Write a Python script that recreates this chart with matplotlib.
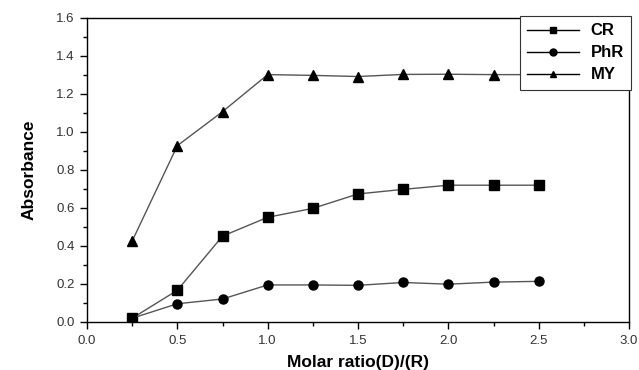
import matplotlib
matplotlib.use("Agg")
import matplotlib.pyplot as plt
from matplotlib.ticker import MultipleLocator, FormatStrFormatter

plt.rcParams['font.family'] = ['Liberation Sans', 'DejaVu Sans']

# data
ratio = [0.25, 0.5, 0.75, 1.0, 1.25, 1.5, 1.75, 2.0, 2.25, 2.5]
cr = [0.02, 0.167, 0.452, 0.551, 0.598, 0.674, 0.698, 0.72, 0.72, 0.72]
phr = [0.02, 0.096, 0.121, 0.195, 0.195, 0.193, 0.208, 0.199, 0.21, 0.214]
my = [0.426, 0.928, 1.107, 1.302, 1.298, 1.292, 1.303, 1.304, 1.302, 1.302]

fig = plt.figure(figsize=(6.39, 3.70), dpi=100)
ax = fig.add_axes([87/639, 1 - 322/370, (629-87)/639, (322-18)/370])

lc = '#555555'
ax.plot(ratio, cr, '-', color=lc, lw=1.0, marker='s', ms=6.5,
        mfc='k', mec='k', label='CR')
ax.plot(ratio, phr, '-', color=lc, lw=1.0, marker='o', ms=6.5,
        mfc='k', mec='k', label='PhR')
ax.plot(ratio, my, '-', color=lc, lw=1.0, marker='^', ms=6.5,
        mfc='k', mec='k', label='MY')

ax.set_xlim(0, 3.0)
ax.set_ylim(0, 1.6)
ax.xaxis.set_major_locator(MultipleLocator(0.5))
ax.xaxis.set_minor_locator(MultipleLocator(0.25))
ax.yaxis.set_major_locator(MultipleLocator(0.2))
ax.yaxis.set_minor_locator(MultipleLocator(0.1))
ax.xaxis.set_major_formatter(FormatStrFormatter('%.1f'))
ax.yaxis.set_major_formatter(FormatStrFormatter('%.1f'))

ax.tick_params(which='both', direction='out', top=False, right=False,
               labelsize=9.5, labelcolor='#333333', width=1.0)
ax.tick_params(which='major', length=5, pad=4)
ax.tick_params(which='minor', length=3)
for s in ax.spines.values():
    s.set_linewidth(1.0)

ax.set_xlabel('Molar ratio(D)/(R)', fontsize=12.5, fontweight='bold', labelpad=6)
ax.set_ylabel('Absorbance', fontsize=12.5, fontweight='bold', labelpad=14)

leg = ax.legend(loc='upper right', bbox_to_anchor=(1.004, 1.007),
                fancybox=False, framealpha=1, edgecolor='#333333',
                prop={'weight': 'bold', 'size': 12}, handlelength=3.1,
                borderpad=0.45, labelspacing=0.42, handletextpad=0.7,
                borderaxespad=0)
leg.get_frame().set_linewidth(0.8)
for h in leg.legend_handles:
    h.set_markersize(5)
    h.set_color('k')

fig.savefig('out.png', dpi=100)
